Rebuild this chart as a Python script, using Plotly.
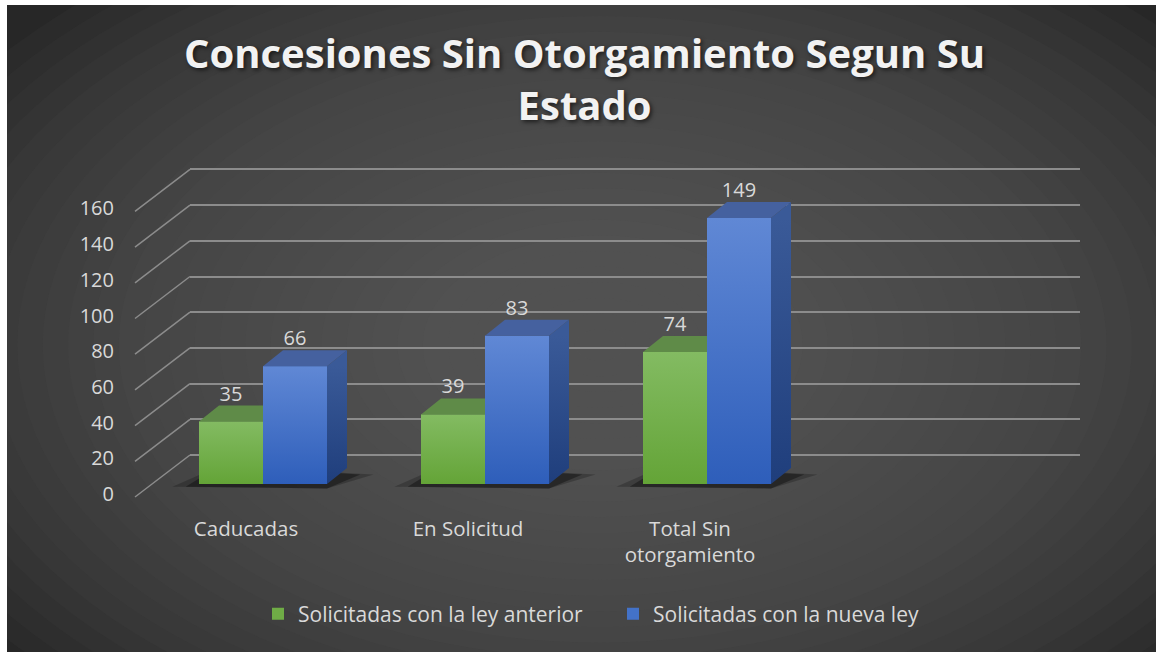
import plotly.graph_objects as go

# ---------------- data ----------------
categories = ["Caducadas", "En Solicitud", "Total Sin<br>otorgamiento"]
series_names = ["Solicitadas con la ley anterior", "Solicitadas con la nueva ley"]
anterior = [35, 39, 74]
nueva = [66, 83, 149]
y_ticks = [0, 20, 40, 60, 80, 100, 120, 140, 160]
title_text = "Concesiones Sin Otorgamiento Segun Su<br>Estado"

# ---------------- geometry (pixels) ----------------
W, H = 1156, 652
K = 1.785                     # px per value unit
PY_TOP, PY_BOT = 140, 514     # vertical extent of all plot areas
X_FRONT0, X_FRONT1 = 135, 1023
BACK_DX, BACK_DY = 55, 42
N_SLOTS = 4
CAT_PX = (X_FRONT1 - X_FRONT0) / N_SLOTS
BAR_SHIFT = 17
BW = 64 / CAT_PX
DX = 20 / CAT_PX
DY = 16 / K
ZERO_BACK, ZERO_BAR, ZERO_LABEL = 455, 484, 494

FONT = "Open Sans"
TXT = "#d9d9d9"
GRID = "#8c8c8c"

def yrange(zero_px):
    lo = -(PY_BOT - zero_px) / K
    return [lo, lo + (PY_BOT - PY_TOP) / K]

ydom = [1 - PY_BOT / H, 1 - PY_TOP / H]

GREEN, GREEN_TOP = "#6fac46", "#5f8b48"
GREEN_GRAD = [[0, "#64a437"], [1, "#83bb62"]]
BLUE, BLUE_TOP = "#4372c8", "#45619f"
BLUE_GRAD = [[0, "#2e5eba"], [1, "#6088d5"]]
SIDE_GRAD = [[0, "#1f3e7c"], [1, "#3a5a98"]]

fig = go.Figure()

# back wall subplot (gridlines only)
fig.add_trace(go.Scatter(x=[0.5], y=[0], mode="markers", marker=dict(opacity=0),
                         showlegend=False, hoverinfo="skip", xaxis="x", yaxis="y"))

# bars
idx = list(range(len(categories)))
fig.add_trace(go.Bar(x=idx, y=anterior, width=BW, offset=-BW, name=series_names[0],
                     marker=dict(color=GREEN, line=dict(width=0)), xaxis="x2", yaxis="y2"))
fig.add_trace(go.Bar(x=idx, y=nueva, width=BW, offset=0, name=series_names[1],
                     marker=dict(color=BLUE, line=dict(width=0)), xaxis="x2", yaxis="y2"))

def face(pts, v, grad=None, color=None):
    xs = [p[0] for p in pts] + [pts[0][0]]
    ys = [p[1] for p in pts] + [pts[0][1]]
    kw = dict(x=xs, y=ys, fill="toself", mode="none", showlegend=False,
              hoverinfo="skip", xaxis="x2", yaxis="y2")
    if grad is not None:
        kw["fillgradient"] = dict(type="vertical", colorscale=grad, start=0, stop=v)
        kw["fillcolor"] = grad[0][1]
    else:
        kw["fillcolor"] = color
    return go.Scatter(**kw)

for i, v in zip(idx, anterior):
    # front shading of the green bar
    fig.add_trace(face([(i - BW, 0), (i, 0), (i, v), (i - BW, v)], v, grad=GREEN_GRAD))
    # visible part of the green top
    fig.add_trace(face([(i - BW, v), (i, v), (i, v + DY), (i - BW + DX, v + DY)], v, color=GREEN_TOP))
for i, v in zip(idx, nueva):
    fig.add_trace(face([(i, 0), (i + BW, 0), (i + BW, v), (i, v)], v, grad=BLUE_GRAD))
    fig.add_trace(face([(i, v), (i + BW, v), (i + BW + DX, v + DY), (i + DX, v + DY)], v, color=BLUE_TOP))
    fig.add_trace(face([(i + BW, 0), (i + BW + DX, DY), (i + BW + DX, v + DY), (i + BW, v)], v,
                       grad=SIDE_GRAD))

# value labels
fig.add_trace(go.Scatter(x=[i - BW / 2 for i in idx] + [i + BW / 2 for i in idx],
                         y=[v + DY for v in anterior] + [v + DY for v in nueva],
                         text=[str(v) for v in anterior] + [str(v) for v in nueva],
                         mode="text", textposition="top center",
                         textfont=dict(family=FONT, size=20, color=TXT),
                         showlegend=False, hoverinfo="skip", xaxis="x2", yaxis="y2"))

# label subplot
fig.add_trace(go.Scatter(x=[0], y=[0], mode="markers", marker=dict(opacity=0),
                         showlegend=False, hoverinfo="skip", xaxis="x3", yaxis="y3"))

# ---------------- shapes ----------------
shapes = []
shapes.append(dict(type="rect", xref="paper", yref="paper", x0=0, x1=1, y0=0, y1=1,
                   fillcolor="#272727", line=dict(width=0), layer="below"))
CX, CY = 600, 345
RX, RY = 760, 470
N = 30
for n in range(N):
    f = 1 - n / N
    shapes.append(dict(type="circle", xref="paper", yref="paper",
                       x0=(CX - RX * f) / W, x1=(CX + RX * f) / W,
                       y0=1 - (CY + RY * f) / H, y1=1 - (CY - RY * f) / H,
                       fillcolor="rgba(92,92,92,0.075)", line=dict(width=0), layer="below"))
# white page border (left and top)
shapes.append(dict(type="rect", xref="paper", yref="paper", x0=0, x1=7 / W, y0=0, y1=1,
                   fillcolor="white", line=dict(width=0), layer="below"))
shapes.append(dict(type="rect", xref="paper", yref="paper", x0=0, x1=1, y0=1 - 5 / H, y1=1,
                   fillcolor="white", line=dict(width=0), layer="below"))
# diagonal floor/side-wall lines
for v in y_ticks:
    shapes.append(dict(type="line", xref="paper", yref="y",
                       x0=X_FRONT0 / W, x1=(X_FRONT0 + BACK_DX) / W,
                       y0=v - BACK_DY / K, y1=v, line=dict(color=GRID, width=1.5), layer="below"))
# soft shadows under the bars
for i in idx:
    for (ex, op) in [(0.12, 0.22), (0.06, 0.35)]:
        x0 = i - BW - ex
        x1 = i + BW + DX + ex
        path = (f"M{x0},{-1.5} L{i + BW},{-2.5} L{x1},{DY * 0.6} "
                f"L{i - BW + DX},{DY + 1} Z")
        shapes.append(dict(type="path", xref="x2", yref="y2", path=path,
                           fillcolor=f"rgba(0,0,0,{op})", line=dict(width=0), layer="below"))

fig.update_layout(
    width=W, height=H,
    margin=dict(l=0, r=0, t=0, b=0),
    paper_bgcolor="#272727",
    plot_bgcolor="rgba(0,0,0,0)",
    barmode="overlay",
    shapes=shapes,
    font=dict(family=FONT, color=TXT, size=20),
    annotations=[dict(text=title_text, xref="paper", yref="paper", x=584 / W, y=1 - 79 / H,
                      xanchor="center", yanchor="middle", showarrow=False, align="center",
                      font=dict(family="Open Sans", size=40, color="#f2f2f2", weight="bold",
                                shadow="2px 2px 4px rgba(0,0,0,0.6)"))],
    legend=dict(orientation="h", x=258 / W, xanchor="left", y=1 - 614 / H, yanchor="middle",
                entrywidth=310, entrywidthmode="pixels",
                font=dict(family=FONT, size=21, color=TXT), bgcolor="rgba(0,0,0,0)"),
    xaxis=dict(domain=[(X_FRONT0 + BACK_DX) / W, (X_FRONT1 + BACK_DX + 2) / W], range=[0, 1],
               visible=False, anchor="y", fixedrange=True),
    yaxis=dict(domain=ydom, range=yrange(ZERO_BACK), tickvals=y_ticks, showgrid=True,
               gridcolor=GRID, gridwidth=1.5, showticklabels=False, zeroline=False,
               showline=False, anchor="x", fixedrange=True),
    xaxis2=dict(domain=[X_FRONT0 / W, X_FRONT1 / W],
                range=[-0.5 - BAR_SHIFT / CAT_PX, N_SLOTS - 0.5 - BAR_SHIFT / CAT_PX],
                visible=False, anchor="y2", fixedrange=True),
    yaxis2=dict(domain=ydom, range=yrange(ZERO_BAR), visible=False, anchor="x2", fixedrange=True),
    xaxis3=dict(domain=[X_FRONT0 / W, X_FRONT1 / W], range=[-0.5, N_SLOTS - 0.5],
                tickvals=idx, ticktext=categories, showgrid=False, zeroline=False,
                showline=False, ticks="", anchor="y3", fixedrange=True,
                tickfont=dict(family=FONT, size=20.5, color=TXT)),
    yaxis3=dict(domain=ydom, range=yrange(ZERO_LABEL), tickvals=y_ticks, showgrid=False,
                zeroline=False, showline=False, ticks="", anchor="x3", fixedrange=True,
                ticklabelstandoff=20, tickfont=dict(family=FONT, size=20, color=TXT)),
)

fig.write_html("out.html", config={"displayModeBar": False},
               post_script="document.body.style.margin='0';")
